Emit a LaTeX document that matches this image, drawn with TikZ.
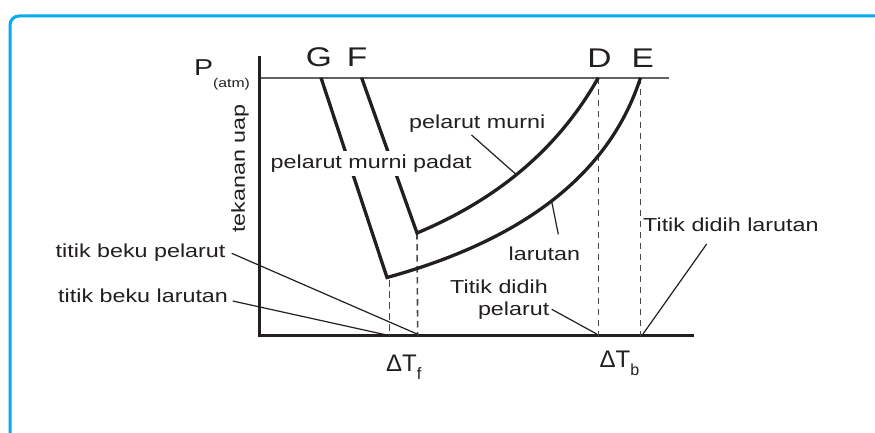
\documentclass[tikz,border=0pt]{standalone}
\usepackage{fontspec}
\setmainfont{Liberation Sans}[FakeStretch=1.24]
\newfontfamily\plainsans{Liberation Sans}
\definecolor{frameblue}{RGB}{0,174,239}
\definecolor{ink}{RGB}{35,31,32}
\begin{document}
\begin{tikzpicture}[x=1pt,y=-1pt,
  frame/.style={draw=frameblue,line width=3pt,rounded corners=9pt},
  axis/.style={draw=ink,line width=3.4pt},
  patm/.style={draw=black!62,line width=2pt},
  curve/.style={draw=ink,line width=3.3pt,line join=miter},
  dashline/.style={draw=black!72,line width=1.6pt,dash pattern=on 6.5pt off 4.5pt},
  leader/.style={draw=ink,line width=1.2pt},
  lbl/.style={text=ink,inner sep=0pt,font=\fontsize{18.8}{21.7}\selectfont},
  big/.style={text=ink,inner sep=0pt,font=\fontsize{27}{30}\selectfont},
  delta/.style={text=ink,inner sep=0pt,font=\plainsans\fontsize{24}{27}\selectfont},
]
\useasboundingbox (0,0) rectangle (875,433);
\fill[white] (0,0) rectangle (875,433);
\draw[frame] (10,470) -- (10,16) -- (910,16);

% key points
\coordinate (Ytop) at (259.5,56);
\coordinate (Ybot) at (259.5,337.4);
\coordinate (Xl) at (257.8,335.7);
\coordinate (Xr) at (693.6,335.7);
\coordinate (Pl) at (259.5,77.7);
\coordinate (Pr) at (668.5,77.7);
\coordinate (G0) at (321,77.7);
\coordinate (Gb) at (387,277.5);
\coordinate (Gd) at (389.5,280);
\coordinate (F0) at (361.6,77.7);
\coordinate (Fb) at (417,233);
\coordinate (D0) at (598.3,77.7);
\coordinate (E0) at (640.5,77.7);
\coordinate (Gx) at (389.5,335.7);
\coordinate (Fx) at (417.7,335.7);
\coordinate (Dx) at (598.3,335.7);
\coordinate (Ex) at (640.5,335.7);

% P(atm) line and axes
\draw[patm] (Pl) -- (Pr);
\draw[axis] (Ytop) -- (Ybot);
\draw[axis] (Xl) -- (Xr);

% dashed verticals
\draw[dashline] (D0) -- (Dx);
\draw[dashline] (E0) -- (Ex);
\draw[dashline] (Fb) -- (Fx);
\draw[dashline] (Gd) -- (Gx);

% curves
\draw[curve] (G0) -- (Gb) .. controls (525,239.5) and (609.8,173.1) .. (E0);
\draw[curve] (F0) -- (Fb) .. controls (498,199.2) and (558.7,148) .. (D0);

% letters
\node[big] (lG) at (319,57.5) {G};
\node[big] (lF) at (357,57.5) {F};
\node[big] (lD) at (599.5,58) {D};
\node[big] (lE) at (642.7,58) {E};
\node[text=ink,inner sep=0pt,anchor=base west,font=\fontsize{23}{26}\selectfont] (P) at (194,75.7)
  {P\raisebox{-12.3pt}{\fontsize{12.7}{14}\selectfont (atm)}};
\node[lbl,rotate=90] (tu) at (240,168.5) {tekanan uap};

% labels
\node[lbl,anchor=base west,fill=white,inner xsep=2pt,inner ysep=3.5pt] (pad) at (268.5,168.3) {pelarut murni padat};
\node[lbl,anchor=base west] (pm) at (409,128.3) {pelarut murni};
\node[lbl,anchor=base west] (tbp) at (55.5,257) {titik beku pelarut};
\node[lbl,anchor=base west] (tbl) at (58,302.5) {titik beku larutan};
\node[lbl,anchor=base west] (lar) at (508.5,260) {larutan};
\node[lbl,anchor=base east] (td1) at (548,293.3) {Titik didih};
\node[lbl,anchor=base east] (td2) at (549.5,315) {pelarut};
\node[lbl,anchor=base west] (tdl) at (643,231) {Titik didih larutan};

\node[delta,anchor=base west] (dTf) at (386,371) {ΔT\raisebox{-8pt}{\plainsans\fontsize{16.5}{17}\selectfont f}};
\node[delta,anchor=base west] (dTb) at (599.5,367.3) {ΔT\raisebox{-8pt}{\plainsans\fontsize{16}{17}\selectfont b}};

% leader lines
\coordinate (pmA) at (471.5,135);
\coordinate (pmB) at (516.2,174.5);
\coordinate (larA) at (558.3,234.3);
\coordinate (larB) at (551.7,201.5);
\coordinate (tbpA) at (231.7,253.3);
\coordinate (tblA) at (232.7,301);
\coordinate (tdpA) at (551.7,309.3);
\coordinate (tdlA) at (706.7,244);
\coordinate (tbpB) at (417.7,334.3);
\coordinate (tblB) at (386.7,335);
\coordinate (tdpB) at (596.7,334);
\coordinate (tdlB) at (642.3,335);
\draw[leader] (pmA) -- (pmB);
\draw[leader] (larA) -- (larB);
\draw[leader] (tbpA) -- (tbpB);
\draw[leader] (tblA) -- (tblB);
\draw[leader] (tdpA) -- (tdpB);
\draw[leader] (tdlA) -- (tdlB);
\end{tikzpicture}
\end{document}
